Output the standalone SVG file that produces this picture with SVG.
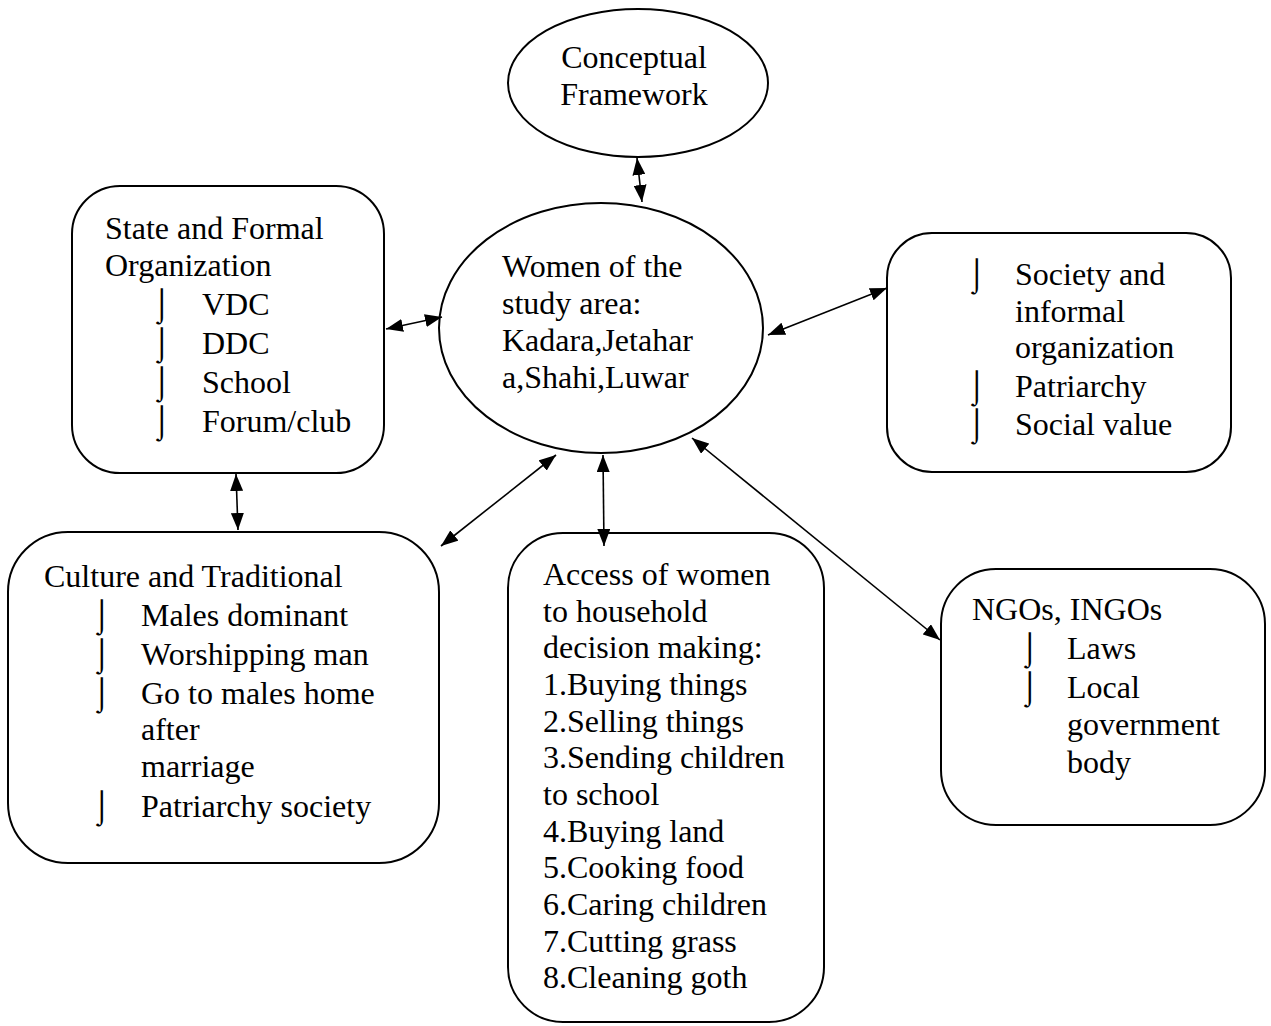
<svg xmlns="http://www.w3.org/2000/svg" width="1271" height="1026" viewBox="0 0 1271 1026">
<style>
.shape{fill:#fff;stroke:#000;stroke-width:2}
.t{font-family:"Liberation Serif","Times New Roman",serif;font-size:32px;fill:#000}
.b{font-family:"Liberation Serif","DejaVu Serif",serif;font-size:32px;fill:#000}
.c{stroke:#000;stroke-width:1.6;fill:none;marker-start:url(#ah);marker-end:url(#ah)}
</style>
<defs>
<marker id="ah" markerUnits="userSpaceOnUse" markerWidth="17" markerHeight="13" refX="17" refY="6.5" orient="auto-start-reverse">
<path d="M0,0 L17,6.5 L0,13 z" fill="#000"/>
</marker>
</defs>
<rect width="1271" height="1026" fill="#fff"/>
<g id="conceptual">
<ellipse class="shape" cx="638" cy="83" rx="130" ry="74"/>
<text class="t" x="634" y="68" text-anchor="middle">Conceptual</text>
<text class="t" x="634" y="105" text-anchor="middle">Framework</text>
</g>
<g id="women">
<ellipse class="shape" cx="601" cy="328" rx="162" ry="125"/>
<text class="t" x="502" y="277">Women of the</text>
<text class="t" x="502" y="314">study area:</text>
<text class="t" x="502" y="351">Kadara,Jetahar</text>
<text class="t" x="502" y="388">a,Shahi,Luwar</text>
</g>
<g id="state">
<rect class="shape" x="72" y="186" width="312" height="287" rx="48"/>
<text class="t" x="105" y="239">State and Formal</text>
<text class="t" x="105" y="276">Organization</text>
<text class="b" x="152" y="315">⌡</text>
<text class="b" x="152" y="354">⌡</text>
<text class="b" x="152" y="393">⌡</text>
<text class="b" x="152" y="432">⌡</text>
<text class="t" x="202" y="315">VDC</text>
<text class="t" x="202" y="354">DDC</text>
<text class="t" x="202" y="393">School</text>
<text class="t" x="202" y="432">Forum/club</text>
</g>
<g id="culture">
<rect class="shape" x="8" y="532" width="431" height="331" rx="60"/>
<text class="t" x="44" y="587">Culture and Traditional</text>
<text class="b" x="92" y="626">⌡</text>
<text class="b" x="92" y="665">⌡</text>
<text class="b" x="92" y="704">⌡</text>
<text class="b" x="92" y="817">⌡</text>
<text class="t" x="141" y="626">Males dominant</text>
<text class="t" x="141" y="665">Worshipping man</text>
<text class="t" x="141" y="704">Go to males home</text>
<text class="t" x="141" y="740">after</text>
<text class="t" x="141" y="777">marriage</text>
<text class="t" x="141" y="817">Patriarchy society</text>
</g>
<g id="access">
<rect class="shape" x="508" y="533" width="316" height="489" rx="55"/>
<text class="t" x="543" y="585">Access of women</text>
<text class="t" x="543" y="622">to household</text>
<text class="t" x="543" y="658">decision making:</text>
<text class="t" x="543" y="695">1.Buying things</text>
<text class="t" x="543" y="732">2.Selling things</text>
<text class="t" x="543" y="768">3.Sending children</text>
<text class="t" x="543" y="805">to school</text>
<text class="t" x="543" y="842">4.Buying land</text>
<text class="t" x="543" y="878">5.Cooking food</text>
<text class="t" x="543" y="915">6.Caring children</text>
<text class="t" x="543" y="952">7.Cutting grass</text>
<text class="t" x="543" y="988">8.Cleaning goth</text>
</g>
<g id="society">
<rect class="shape" x="887" y="233" width="344" height="239" rx="45"/>
<text class="b" x="967" y="285">⌡</text>
<text class="b" x="967" y="397">⌡</text>
<text class="b" x="967" y="435">⌡</text>
<text class="t" x="1015" y="285">Society and</text>
<text class="t" x="1015" y="322">informal</text>
<text class="t" x="1015" y="358">organization</text>
<text class="t" x="1015" y="397">Patriarchy</text>
<text class="t" x="1015" y="435">Social value</text>
</g>
<g id="ngo">
<rect class="shape" x="941" y="569" width="324" height="256" rx="55"/>
<text class="t" x="972" y="620">NGOs, INGOs</text>
<text class="b" x="1020" y="659">⌡</text>
<text class="b" x="1020" y="698">⌡</text>
<text class="t" x="1067" y="659">Laws</text>
<text class="t" x="1067" y="698">Local</text>
<text class="t" x="1067" y="735">government</text>
<text class="t" x="1067" y="773">body</text>
</g>
<g id="connectors">
<line class="c" x1="637" y1="158" x2="642" y2="202"/>
<line class="c" x1="386" y1="329" x2="442" y2="317"/>
<line class="c" x1="236" y1="474" x2="238" y2="530"/>
<line class="c" x1="441" y1="546" x2="556" y2="455"/>
<line class="c" x1="603" y1="455" x2="604" y2="546"/>
<line class="c" x1="768" y1="335" x2="887" y2="288"/>
<line class="c" x1="692" y1="438" x2="940" y2="640"/>
</g>
</svg>
